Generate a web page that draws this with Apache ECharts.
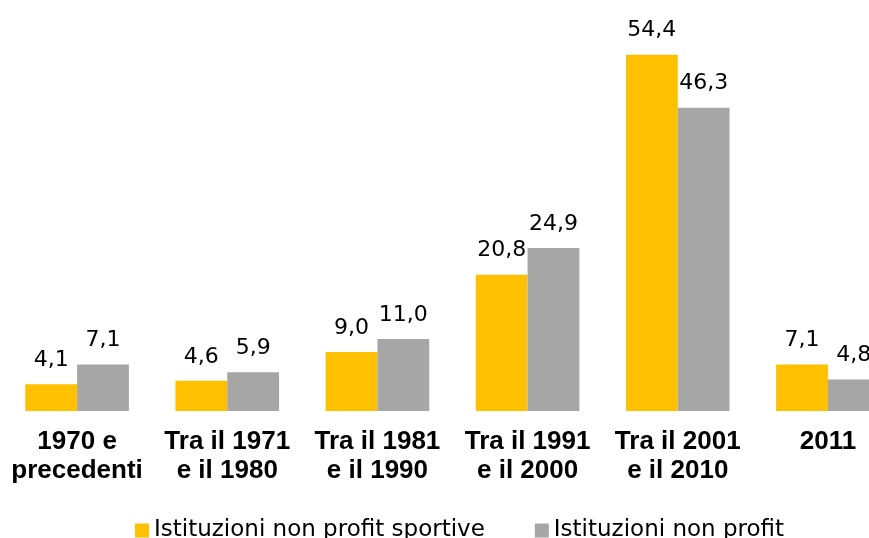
<!DOCTYPE html>
<html>
<head>
<meta charset="utf-8">
<script src="https://cdn.jsdelivr.net/npm/echarts@6/dist/echarts.min.js"></script>
<style>
  html, body { margin: 0; padding: 0; background: #fff; }
  #chart { width: 869px; height: 538px; }
</style>
</head>
<body>
<div id="chart"></div>
<script>
var categories = [
  "1970 e\nprecedenti",
  "Tra il 1971\ne il 1980",
  "Tra il 1981\ne il 1990",
  "Tra il 1991\ne il 2000",
  "Tra il 2001\ne il 2010",
  "2011"
];
var sportive = [4.1, 4.6, 9.0, 20.8, 54.4, 7.1];
var nonProfit = [7.1, 5.9, 11.0, 24.9, 46.3, 4.8];
var seriesNames = ["Istituzioni non profit sportive", "Istituzioni non profit"];

var myChart = echarts.init(document.getElementById("chart"));

function fmt(p) {
  return p.value.toFixed(1).replace(".", ",");
}

var labelStyle = {
  show: true,
  position: "top",
  distance: 13,
  formatter: fmt,
  color: "#000",
  fontFamily: "DejaVu Sans",
  fontSize: 22
};

var option = {
  animation: false,
  backgroundColor: "#fff",
  grid: {
    left: 2,
    width: 901,
    top: 18,
    bottom: 127,
    containLabel: false,
    outerBoundsMode: "none"
  },
  legend: {
    data: seriesNames,
    top: 514,
    left: 130,
    itemGap: 50,
    itemWidth: 14,
    itemHeight: 14,
    icon: "rect",
    textStyle: {
      color: "#000",
      fontFamily: "DejaVu Sans",
      fontSize: 23
    }
  },
  xAxis: {
    type: "category",
    data: categories,
    axisLine: { show: false },
    axisTick: { show: false },
    axisLabel: {
      interval: 0,
      margin: 16,
      color: "#000",
      fontFamily: "Liberation Sans",
      fontWeight: "bold",
      fontSize: 26,
      lineHeight: 29
    }
  },
  yAxis: {
    type: "value",
    min: 0,
    max: 60,
    show: false,
    splitLine: { show: false }
  },
  series: [
    {
      name: seriesNames[0],
      type: "bar",
      data: sportive,
      barGap: "0%",
      barCategoryGap: "31%",
      itemStyle: { color: "#FFC000" },
      label: labelStyle
    },
    {
      name: seriesNames[1],
      type: "bar",
      data: nonProfit,
      itemStyle: { color: "#A6A6A6" },
      label: labelStyle
    }
  ]
};
myChart.setOption(option);
</script>
</body>
</html>
